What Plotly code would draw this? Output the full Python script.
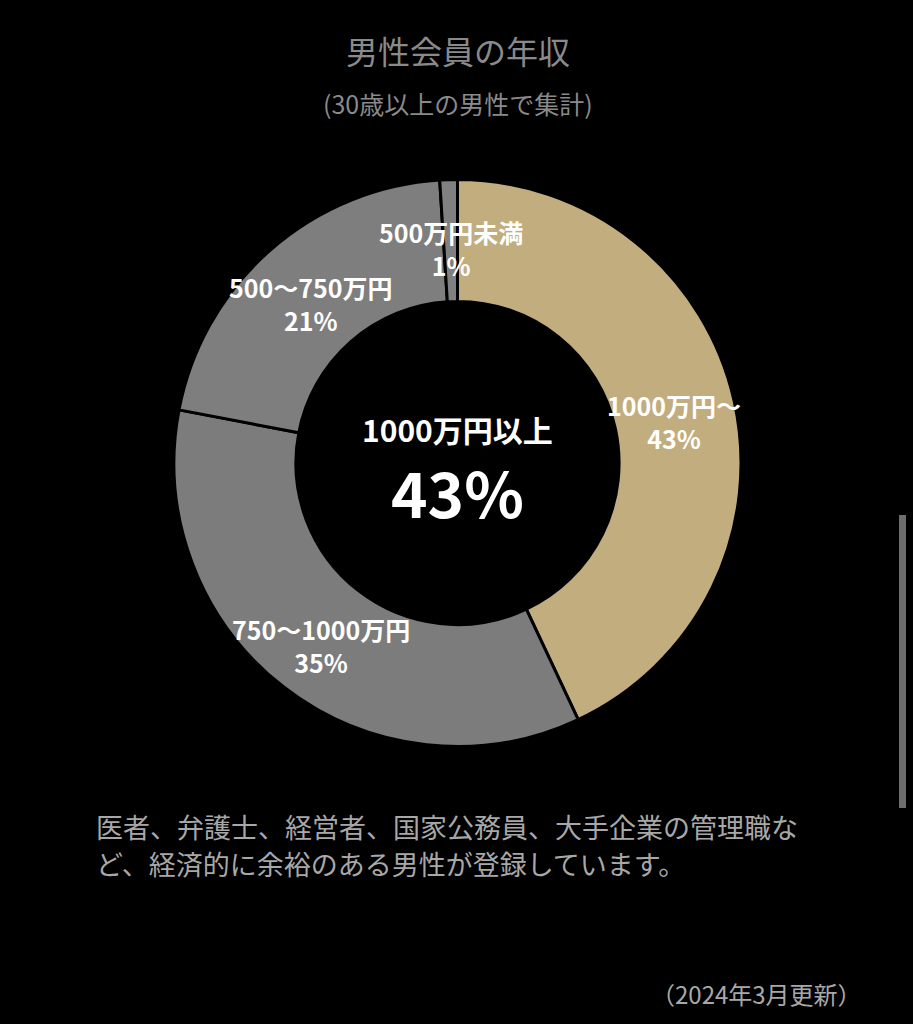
import math
import plotly.graph_objects as go

labels = ["1000万円～", "750～1000万円", "500～750万円", "500万円未満"]
values = [43, 35, 21, 1]
colors = ["#C2AD7E", "#7C7C7C", "#7E7E7E", "#808080"]

title = "男性会員の年収"
subtitle = "(30歳以上の男性で集計)"
center_label = "1000万円以上"
center_value = "43%"
note_lines = ["医者、弁護士、経営者、国家公務員、大手企業の管理職な", "ど、経済的に余裕のある男性が登録しています。"]
updated = "（2024年3月更新）"

W, H = 913, 1024
FONT = "Noto Sans CJK JP"
CX, CY, R_OUT, HOLE = 457.5, 463.0, 283.5, 0.57

fig = go.Figure(go.Pie(
    labels=labels,
    values=values,
    sort=False,
    direction="clockwise",
    rotation=0,
    hole=HOLE,
    marker=dict(colors=colors, line=dict(color="#000000", width=3)),
    textinfo="none",
    hoverinfo="label+percent",
    showlegend=False,
    domain=dict(x=[(CX - R_OUT) / W, (CX + R_OUT) / W],
                y=[1 - (CY + R_OUT) / H, 1 - (CY - R_OUT) / H]),
))

def px(x, y):
    return x / W, 1 - y / H

ann = []
def add(text, x, y, size, color, xanchor="center", bold=False):
    xx, yy = px(x, y)
    ann.append(dict(text=("<b>" + text + "</b>") if bold else text, x=xx, y=yy,
                    xref="paper", yref="paper", xanchor=xanchor, yanchor="middle",
                    showarrow=False, font=dict(size=size, color=color, family=FONT)))

add(title, CX, 50, 32, "#8A8A8A")
add(subtitle, CX, 103, 25, "#8A8A8A")
add(center_label, CX, 429, 30, "#FFFFFF", bold=True)
add(center_value, CX, 490.5, 62, "#FFFFFF", bold=True)

# slice labels at the middle of each ring segment
total = sum(values)
r_mid = 222
acc = 0
for lab, v in zip(labels, values):
    mid = (acc + v / 2) / total * 2 * math.pi
    acc += v
    lx = CX + r_mid * math.sin(mid)
    ly = CY - r_mid * math.cos(mid) + 7
    xx, yy = px(lx, ly)
    ann.append(dict(text=f"<b>{lab}<br>{v}%</b>", x=xx, y=yy, xref="paper", yref="paper",
                    xanchor="center", yanchor="middle", align="center", showarrow=False,
                    font=dict(size=25, color="#FFFFFF", family=FONT)))

for i, line in enumerate(note_lines):
    add(line, 94, 826 + 37 * i, 27, "#A8A8A8", xanchor="left")
add(updated, 864, 993, 24, "#A8A8A8", xanchor="right")

fig.update_layout(
    width=W, height=H,
    margin=dict(l=0, r=0, t=0, b=0),
    paper_bgcolor="#000000",
    plot_bgcolor="#000000",
    annotations=ann,
    shapes=[dict(type="rect", xref="paper", yref="paper",
                 x0=899 / W, x1=906 / W, y0=1 - 808 / H, y1=1 - 515 / H,
                 fillcolor="#6E6E6E", line=dict(width=0))],
)

fig.write_html("out.html")
